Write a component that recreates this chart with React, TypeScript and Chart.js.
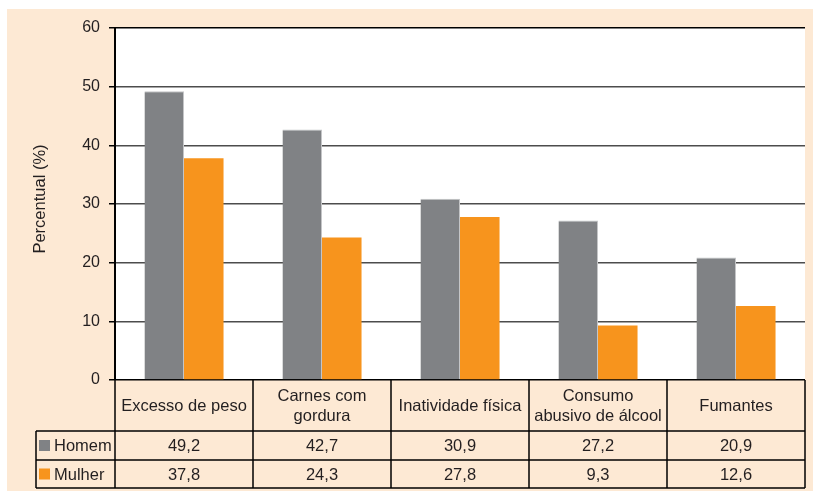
import { useEffect, useRef } from 'react';
import { Chart, registerables } from 'chart.js';

Chart.register(...registerables);

const categories: string[][] = [
  ['Excesso de peso'],
  ['Carnes com', 'gordura'],
  ['Inatividade física'],
  ['Consumo', 'abusivo de álcool'],
  ['Fumantes'],
];
const seriesNames = ['Homem', 'Mulher'];
const homem = [49.2, 42.7, 30.9, 27.2, 20.9];
const mulher = [37.8, 24.3, 27.8, 9.3, 12.6];
const yTicks = [0, 10, 20, 30, 40, 50, 60];

const GRAY = '#808285';
const ORANGE = '#f7941d';
const PEACH = '#fde9d4';
const FONT = '"Liberation Sans", Arial, sans-serif';
const TEXT = '#231f20';

const fmt = (v: number) => v.toFixed(1).replace('.', ',');

const tablePlugin = {
  id: 'tablePlugin',
  beforeDraw(chart: any) {
    const ctx = chart.ctx;
    const { left, top, right, bottom } = chart.chartArea;
    ctx.save();
    ctx.fillStyle = PEACH;
    ctx.fillRect(7, 9, chart.width - 7, chart.height - 9);
    ctx.fillStyle = '#ffffff';
    ctx.fillRect(left, top, right - left, bottom - top);
    ctx.restore();
  },
  afterDraw(chart: any) {
    const ctx = chart.ctx;
    const { left: L, right: R, top: T, bottom: B } = chart.chartArea;
    const n = categories.length;
    const colW = (R - L) / n;
    const r1 = B + 51;
    const r2 = r1 + 29;
    const r3 = r2 + 28;
    const legL = 36;
    ctx.save();
    // y title
    ctx.fillStyle = TEXT;
    ctx.font = `16.5px ${FONT}`;
    ctx.textAlign = 'center';
    ctx.textBaseline = 'middle';
    ctx.translate(40, 199);
    ctx.rotate(-Math.PI / 2);
    ctx.fillText('Percentual (%)', 0, 0);
    ctx.restore();

    ctx.save();
    ctx.strokeStyle = '#000';
    ctx.lineWidth = 1.5;
    ctx.beginPath();
    for (let i = 0; i <= n; i++) {
      const x = L + i * colW;
      ctx.moveTo(x, B);
      ctx.lineTo(x, r3);
    }
    ctx.moveTo(legL, r1); ctx.lineTo(R, r1);
    ctx.moveTo(legL, r2); ctx.lineTo(R, r2);
    ctx.moveTo(legL, r3); ctx.lineTo(R, r3);
    ctx.moveTo(legL, r1); ctx.lineTo(legL, r3);
    ctx.stroke();

    ctx.fillStyle = TEXT;
    ctx.font = `16.5px ${FONT}`;
    ctx.textAlign = 'center';
    ctx.textBaseline = 'middle';
    const xs = chart.scales.x;
    const catMid = (B + r1) / 2 + 1;
    categories.forEach((lines, i) => {
      const cx = xs.getPixelForValue(i);
      const lh = 20;
      const y0 = catMid - ((lines.length - 1) * lh) / 2;
      lines.forEach((ln, j) => ctx.fillText(ln, cx, y0 + j * lh));
      ctx.fillText(fmt(homem[i]), cx, (r1 + r2) / 2 + 1);
      ctx.fillText(fmt(mulher[i]), cx, (r2 + r3) / 2 + 1);
    });
    // legend
    const rows = [[r1, r2], [r2, r3]];
    [GRAY, ORANGE].forEach((c, k) => {
      const [a, b] = rows[k];
      const mid = (a + b) / 2;
      ctx.fillStyle = c;
      ctx.fillRect(39, mid - 5.5, 11, 11);
      ctx.fillStyle = TEXT;
      ctx.textAlign = 'left';
      ctx.fillText(seriesNames[k], 54, mid + 1);
    });
    ctx.restore();
  },
};

export default function App() {
  const ref = useRef<HTMLCanvasElement>(null);
  useEffect(() => {
    const chart = new Chart(ref.current!, {
      type: 'bar',
      data: {
        labels: categories.map((c) => c.join(' ')),
        datasets: [
          { label: seriesNames[0], data: homem, backgroundColor: GRAY, borderColor: '#c4c5c7', borderWidth: { top: 1, right: 1, left: 0, bottom: 0 } as any, borderSkipped: 'bottom' },
          { label: seriesNames[1], data: mulher, backgroundColor: ORANGE, borderWidth: 0 },
        ],
      },
      options: {
        responsive: false,
        animation: false,
        layout: { padding: { top: 28, right: 8, bottom: 111, left: 0 } },
        datasets: { bar: { categoryPercentage: 0.573, barPercentage: 1 } },
        plugins: { legend: { display: false }, tooltip: { enabled: false } },
        scales: {
          x: { display: false },
          y: {
            min: 0,
            max: 60,
            afterFit: (scale: any) => { scale.width = 115; },
            afterBuildTicks: (scale: any) => { scale.ticks = yTicks.map((v) => ({ value: v })); },
            ticks: { color: TEXT, font: { family: FONT, size: 16 }, padding: 9 },
            grid: {
              color: (c: any) => (c.tick && (c.tick.value === 0 || c.tick.value === 60) ? '#000' : '#4d4d4d'),
              lineWidth: 1.5,
              tickLength: 6,
              tickColor: '#000',
            },
            border: { display: true, color: '#000', width: 2 },
          },
        },
      },
      plugins: [tablePlugin],
    });
    return () => chart.destroy();
  }, []);
  return (
    <div style={{ position: 'absolute', left: 0, top: 0, width: 813, height: 491 }}>
      <canvas ref={ref} width={813} height={491} style={{ display: 'block' }} />
    </div>
  );
}
